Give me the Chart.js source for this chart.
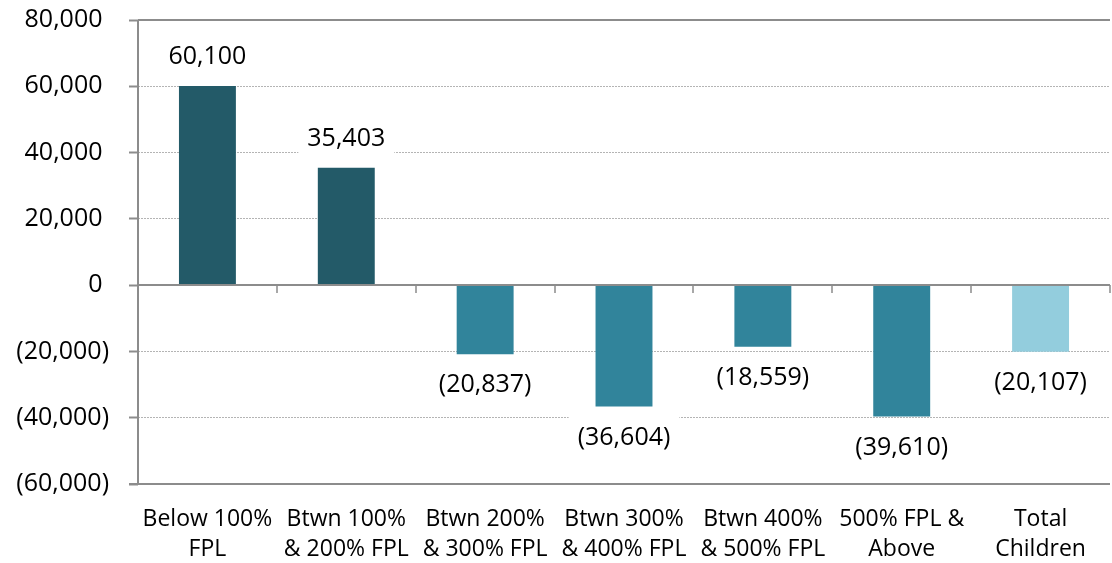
<!DOCTYPE html>
<html><head><meta charset="utf-8">
<script src="https://cdn.jsdelivr.net/npm/chart.js@4/dist/chart.umd.min.js"></script>
<style>html,body{margin:0;padding:0;background:#fff;overflow:hidden}canvas{display:block}</style>
</head><body>
<canvas id="c" width="1112" height="563"></canvas>
<script>
const categories = [["Below 100%","FPL"],["Btwn 100%","& 200% FPL"],["Btwn 200%","& 300% FPL"],["Btwn 300%","& 400% FPL"],["Btwn 400%","& 500% FPL"],["500% FPL &","Above"],["Total","Children"]];
const values = [60100, 35403, -20837, -36604, -18559, -39610, -20107];
const barColors = ["#235A68","#235A68","#31849B","#31849B","#31849B","#31849B","#93CDDD"];
const yTicks = [-60000,-40000,-20000,0,20000,40000,60000,80000];

const FONT = '"Open Sans", "Noto Sans", sans-serif';
const FS = 25;
const FSX = 23;
const AXIS = '#8c8c8c';

function fmt(v){
  const s = Math.abs(v).toLocaleString('en-US');
  return v < 0 ? '(' + s + ')' : s;
}

const decor = {
  id: 'decor',
  afterDatasetsDraw(chart){
    const ctx = chart.ctx, xs = chart.scales.x, ys = chart.scales.y, a = chart.chartArea;
    ctx.save();
    ctx.strokeStyle = AXIS; ctx.lineWidth = 2; ctx.setLineDash([]);
    const y0 = Math.round(ys.getPixelForValue(0));
    const yTop = Math.round(ys.getPixelForValue(yTicks[yTicks.length-1]));
    const yBot = Math.round(ys.getPixelForValue(yTicks[0]));
    ctx.beginPath();
    ctx.moveTo(a.left, y0); ctx.lineTo(a.right, y0);
    ctx.moveTo(a.left, yTop); ctx.lineTo(a.right, yTop);
    ctx.moveTo(a.left - 9, yBot); ctx.lineTo(a.right, yBot);
    ctx.moveTo(a.left, yTop); ctx.lineTo(a.left, yBot);
    ctx.stroke();
    // category tick marks on zero line
    const n = categories.length;
    const half = (xs.getPixelForValue(1) - xs.getPixelForValue(0)) / 2;
    ctx.lineWidth = 1.5;
    ctx.beginPath();
    for (let i = 0; i < n; i++){
      const px = Math.round(xs.getPixelForValue(i) + half);
      ctx.moveTo(px, y0); ctx.lineTo(px, y0 + 8);
    }
    ctx.stroke();
    // data labels
    const meta = chart.getDatasetMeta(0);
    ctx.font = FS + 'px ' + FONT;
    ctx.textAlign = 'center';
    ctx.textBaseline = 'middle';
    meta.data.forEach((bar, i) => {
      const v = values[i];
      const t = fmt(v);
      const cy = v >= 0 ? bar.y - 29 : bar.y + 31;
      const w = ctx.measureText(t).width;
      ctx.fillStyle = '#fff';
      ctx.fillRect(bar.x - w/2 - 9, cy - 21, w + 18, 42);
      ctx.fillStyle = '#000';
      ctx.fillText(t, bar.x, cy);
    });
    ctx.restore();
  }
};

new Chart(document.getElementById('c'), {
  type: 'bar',
  data: {
    labels: categories,
    datasets: [{
      data: values,
      backgroundColor: barColors,
      borderWidth: 0,
      barPercentage: 0.41,
      categoryPercentage: 1
    }]
  },
  options: {
    responsive: false,
    animation: false,
    events: [],
    layout: { padding: { top: 20, right: 2, left: 0, bottom: 0 } },
    plugins: { legend: { display: false }, tooltip: { enabled: false } },
    scales: {
      x: {
        grid: { display: false, drawTicks: false },
        border: { display: false },
        ticks: { color: '#000', font: { family: FONT, size: FSX, lineHeight: 1.3 }, padding: 21, maxRotation: 0, autoSkip: false },
        afterFit(s){ s.height = 79; s.paddingLeft = 0; s.paddingRight = 0; }
      },
      y: {
        min: -60000, max: 80000,
        afterBuildTicks(s){ s.ticks = yTicks.map(v => ({ value: v })); },
        grid: {
          color: c => (c.tick && (c.tick.value === 0 || c.tick.value === yTicks[0] || c.tick.value === yTicks[yTicks.length-1])) ? 'rgba(0,0,0,0)' : '#b4b4b4',
          lineWidth: 1,
          tickColor: AXIS, tickWidth: 2, tickLength: 9
        },
        border: { display: false, dash: [2, 1] },
        ticks: {
          color: '#000', font: { family: FONT, size: FS }, padding: 20,
          callback: v => v < 0 ? fmt(v) : fmt(v) + ' '
        },
        afterFit(s){ s.width = 138; s.paddingTop = 0; s.paddingBottom = 0; }
      }
    }
  },
  plugins: [decor]
});
</script>
</body></html>
